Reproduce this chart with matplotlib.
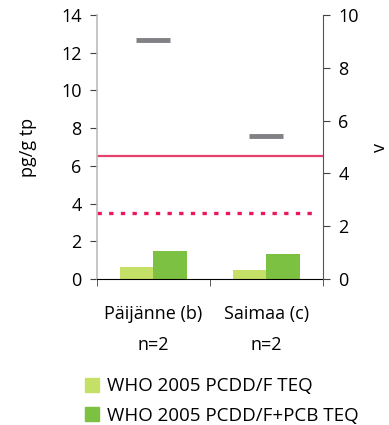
import matplotlib
matplotlib.use("Agg")
import matplotlib.pyplot as plt
import numpy as np
from matplotlib.patches import Patch

plt.rcParams['font.family'] = ['Open Sans', 'DejaVu Sans']

# data
lakes = ['Päijänne (b)', 'Saimaa (c)']
counts = ['n=2', 'n=2']
pcddf_teq = [0.65, 0.48]
pcddf_pcb_teq = [1.5, 1.33]
age_years = [9.05, 5.4]
limit_solid = 6.5
limit_dashed = 3.5
series_names = ['WHO 2005 PCDD/F TEQ', 'WHO 2005 PCDD/F+PCB TEQ']

light_green = '#C5E067'
dark_green = '#7CC142'
grey = '#808085'
red = '#E8185A'

fig = plt.figure(figsize=(3.89, 4.25), dpi=100)
ax = fig.add_axes([0.249, 0.3435, 0.581, 0.6212])

x = np.arange(len(lakes))
w = 0.295
ax.bar(x - w / 2, pcddf_teq, width=w, color=light_green, zorder=2)
ax.bar(x + w / 2, pcddf_pcb_teq, width=w, color=dark_green, zorder=2)

ax.axhline(limit_solid, color='#E8416E', lw=1.6, zorder=1)
ax.axhline(limit_dashed, color=red, lw=2.4, ls=(0, (1.3, 2.2)), zorder=1,
           xmin=0, xmax=0.975)

ax.set_xlim(-0.5, 1.5)
ax.set_ylim(0, 14)
ax.set_yticks(range(0, 15, 2))
ax.set_xticks(x)
ax.set_xticklabels([f'{a}\n{b}' for a, b in zip(lakes, counts)],
                   fontsize=13, linespacing=1.9)
ax.set_xticks([-0.5, 0.5, 1.5], minor=True)
ax.tick_params(axis='x', which='major', length=0, pad=19)
ax.tick_params(axis='x', which='minor', length=5, direction='out', color='#404040')
ax.tick_params(axis='y', labelsize=13, length=5, pad=6, direction='out', color='#404040')
ax.set_ylabel('pg/g tp', fontsize=13, labelpad=17)
ax.spines['top'].set_visible(False)
ax.spines['right'].set_visible(False)
ax.spines['left'].set_color('#BBBBBB')
ax.spines['left'].set_linewidth(1.2)

ax2 = ax.twinx()
ax2.plot(x, age_years, ls='none', marker='_', markersize=24, mew=3.5, color=grey)
ax2.set_ylim(0, 10)
ax2.set_yticks(range(0, 11, 2))
ax2.tick_params(axis='y', labelsize=13, length=5, pad=6, direction='out', color='#404040')
ax2.set_ylabel('v', fontsize=13, labelpad=9)
ax2.spines['top'].set_visible(False)
ax2.spines['left'].set_visible(False)
ax2.spines['bottom'].set_visible(False)
ax2.spines['right'].set_color('#555555')

handles = [Patch(color=light_green), Patch(color=dark_green)]
fig.legend(handles, series_names, loc='upper left', bbox_to_anchor=(0.2, 0.13),
           frameon=False, fontsize=13.5, handlelength=0.75, handleheight=0.75,
           handletextpad=0.4, labelspacing=0.6, borderaxespad=0)

fig.savefig('out.png', dpi=100)
